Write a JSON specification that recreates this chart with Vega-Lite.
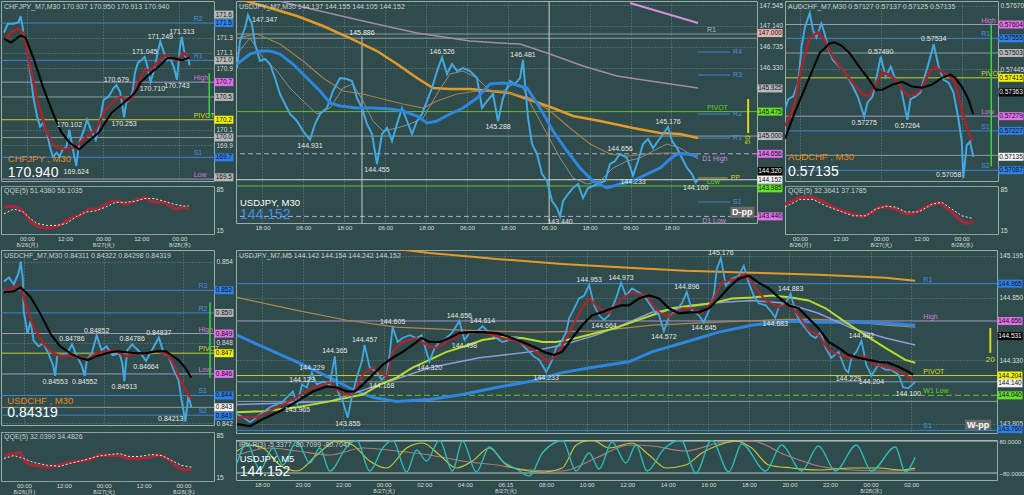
{
"$schema":"https://vega.github.io/schema/vega-lite/v6.json",
"background":"#2f4b4b",
"padding":0,
"config":{
 "view":{"stroke":"#9aabab","strokeWidth":1,"fill":"#2f4b4b"},
 "axis":{"labelColor":"#d8dede","labelFont":"Liberation Sans","labelPadding":2,"ticks":false,"domain":false,"gridColor":"#6d8787","gridDash":[1,2],"gridWidth":1,"labelOverlap":false,"labelFlush":false},
 "axisX":{"labelFontSize":6,"labelLineHeight":6.5,"labelPadding":1},
 "axisY":{"labelFontSize":6.5},
 "text":{"font":"Liberation Sans"},
 "tick":{"opacity":1}
},
"datasets":{
"cj_p":[{"t":-1.23,"v":171.365},{"t":0,"v":171.48},{"t":1.85,"v":171.48},{"t":3.38,"v":171.5},{"t":4.0,"v":171.58},{"t":4.62,"v":171.45},{"t":4.92,"v":171.35},{"t":6.15,"v":171.13},{"t":7.08,"v":170.84},{"t":8.0,"v":170.53},{"t":9.23,"v":170.27},{"t":10.15,"v":170.14},{"t":11.08,"v":170.19},{"t":12.31,"v":170.06},{"t":13.23,"v":169.88},{"t":14.15,"v":169.75},{"t":15.38,"v":169.8},{"t":16.31,"v":169.75},{"t":17.23,"v":169.84},{"t":18.46,"v":169.88},{"t":19.38,"v":170.1},{"t":20.31,"v":169.88},{"t":21.54,"v":169.63},{"t":22.46,"v":169.93},{"t":24.0,"v":170.1},{"t":24.92,"v":170.23},{"t":26.15,"v":170.1},{"t":27.69,"v":169.97},{"t":28.62,"v":170.14},{"t":29.23,"v":170.27},{"t":30.15,"v":170.49},{"t":31.69,"v":170.53},{"t":33.23,"v":170.64},{"t":34.15,"v":170.68},{"t":35.38,"v":170.59},{"t":36.6,"v":170.26},{"t":37.3,"v":170.46},{"t":38.46,"v":170.49},{"t":39.38,"v":170.62},{"t":40.0,"v":170.84},{"t":40.92,"v":170.97},{"t":41.85,"v":171.0},{"t":43.08,"v":171.05},{"t":44.0,"v":170.91},{"t":44.92,"v":170.72},{"t":46.15,"v":170.88},{"t":47.08,"v":171.09},{"t":48.0,"v":171.25},{"t":49.23,"v":171.09},{"t":50.15,"v":171.0},{"t":51.08,"v":171.03},{"t":52.31,"v":170.91},{"t":53.23,"v":170.75},{"t":54.15,"v":171.17},{"t":54.77,"v":171.31},{"t":55.69,"v":171.07},{"t":56.92,"v":171.0},{"t":57.23,"v":170.94}],
"cj_r":[{"t":-1.23,"v":171.26},{"t":0.92,"v":171.365},{"t":3.38,"v":171.416},{"t":4.92,"v":171.352},{"t":7.08,"v":170.913},{"t":9.23,"v":170.488},{"t":12.31,"v":170.063},{"t":14.77,"v":169.882},{"t":18.46,"v":169.844},{"t":21.54,"v":169.882},{"t":24.62,"v":170.01},{"t":27.69,"v":170.1},{"t":30.77,"v":170.36},{"t":33.85,"v":170.488},{"t":35.69,"v":170.527},{"t":37.23,"v":170.488},{"t":38.77,"v":170.488},{"t":40.92,"v":170.707},{"t":43.08,"v":170.875},{"t":44.92,"v":170.875},{"t":47.08,"v":170.978},{"t":49.23,"v":171.068},{"t":51.08,"v":171.042},{"t":53.23,"v":171.004},{"t":55.38,"v":171.094},{"t":57.23,"v":171.042}],
"cj_k":[{"t":-1.23,"v":171.287},{"t":0.92,"v":171.236},{"t":4.0,"v":171.326},{"t":5.54,"v":171.3},{"t":8.0,"v":171.042},{"t":11.08,"v":170.656},{"t":14.15,"v":170.32},{"t":16.92,"v":170.063},{"t":19.38,"v":169.934},{"t":22.46,"v":169.844},{"t":24.92,"v":169.934},{"t":28.62,"v":170.063},{"t":32.62,"v":170.32},{"t":36.92,"v":170.463},{"t":40.0,"v":170.58},{"t":41.85,"v":170.72},{"t":44.92,"v":170.836},{"t":48.0,"v":170.94},{"t":50.15,"v":171.03},{"t":52.31,"v":171.03},{"t":54.77,"v":171.004},{"t":57.23,"v":171.042}],
"cj_q1":[{"t":-1.23,"v":54.3},{"t":1.85,"v":55.7},{"t":4.0,"v":51.4},{"t":4.92,"v":47.1},{"t":7.08,"v":32.9},{"t":9.23,"v":25.7},{"t":12.31,"v":22.9},{"t":14.15,"v":24.3},{"t":16.31,"v":27.1},{"t":19.38,"v":37.1},{"t":22.46,"v":41.4},{"t":25.54,"v":51.4},{"t":28.62,"v":51.4},{"t":30.77,"v":58.6},{"t":32.62,"v":62.9},{"t":34.77,"v":62.9},{"t":36.92,"v":58.6},{"t":38.77,"v":61.4},{"t":40.92,"v":65.7},{"t":43.08,"v":68.6},{"t":44.92,"v":62.9},{"t":47.08,"v":61.4},{"t":49.23,"v":61.4},{"t":51.08,"v":55.7},{"t":53.23,"v":51.4},{"t":55.38,"v":54.3},{"t":56.92,"v":51.4}],
"cj_q2":[{"t":-1.23,"v":44.3},{"t":1.85,"v":51.4},{"t":4.92,"v":47.1},{"t":7.08,"v":37.1},{"t":9.23,"v":30},{"t":12.31,"v":27.1},{"t":15.38,"v":27.1},{"t":18.46,"v":30},{"t":21.54,"v":40},{"t":24.62,"v":47.1},{"t":27.69,"v":48.6},{"t":30.77,"v":54.3},{"t":33.85,"v":61.4},{"t":36.92,"v":61.4},{"t":40.0,"v":62.9},{"t":43.08,"v":67.1},{"t":46.15,"v":67.1},{"t":49.23,"v":62.9},{"t":52.31,"v":58.6},{"t":55.38,"v":55.7},{"t":56.92,"v":56.1}],
"cj_lv":[{"v":171.49,"k":"R","n":"R2"},{"v":171.004,"k":"R","n":"R1"},{"v":170.72,"k":"HL","n":"High"},{"v":170.527,"k":"ref","n":""},{"v":170.23,"k":"P","n":"PIVOT"},{"v":169.999,"k":"ref","n":""},{"v":169.74,"k":"R","n":"S1"},{"v":169.457,"k":"HL","n":"Low"}],
"cj_bx":[{"v":171.6,"k":"bS"},{"v":171.49,"k":"bB"},{"v":171.004,"k":"bS"},{"v":170.72,"k":"bM"},{"v":170.527,"k":"bS"},{"v":170.23,"k":"bY"},{"v":169.999,"k":"bS"},{"v":169.74,"k":"bB"},{"v":169.48,"k":"bS"}],
"cj_hi":[{"t":19.38,"v":170.102},{"t":34.15,"v":170.679},{"t":43.08,"v":171.045},{"t":48.0,"v":171.249},{"t":54.77,"v":171.313}],
"cj_lo":[{"t":21.54,"v":169.624},{"t":36.6,"v":170.253},{"t":45.5,"v":170.71},{"t":53.23,"v":170.743}],
"au_p":[{"t":-4.41,"v":0.57304},{"t":-3.43,"v":0.57339},{"t":-1.96,"v":0.57349},{"t":-0.49,"v":0.57398},{"t":0.49,"v":0.57523},{"t":1.47,"v":0.57593},{"t":2.94,"v":0.57645},{"t":3.92,"v":0.57583},{"t":4.9,"v":0.57558},{"t":6.37,"v":0.57607},{"t":7.35,"v":0.57572},{"t":8.33,"v":0.57523},{"t":9.8,"v":0.57478},{"t":11.27,"v":0.57461},{"t":12.75,"v":0.57443},{"t":14.22,"v":0.57419},{"t":15.69,"v":0.57384},{"t":17.16,"v":0.57349},{"t":19.1,"v":0.57278},{"t":20.1,"v":0.57328},{"t":21.57,"v":0.57349},{"t":23.04,"v":0.57433},{"t":24.0,"v":0.5749},{"t":25.49,"v":0.57419},{"t":26.96,"v":0.57454},{"t":28.43,"v":0.57408},{"t":29.9,"v":0.57384},{"t":31.9,"v":0.57266},{"t":32.84,"v":0.57339},{"t":34.31,"v":0.57349},{"t":35.78,"v":0.57363},{"t":36.76,"v":0.57408},{"t":38.24,"v":0.57468},{"t":39.71,"v":0.57534},{"t":41.18,"v":0.57454},{"t":42.65,"v":0.57408},{"t":44.12,"v":0.57398},{"t":45.59,"v":0.57363},{"t":47.06,"v":0.57269},{"t":48.04,"v":0.57189},{"t":48.53,"v":0.5706},{"t":49.51,"v":0.57175},{"t":50.49,"v":0.57189},{"t":51.47,"v":0.57135}],
"au_r":[{"t":-4.41,"v":0.57244},{"t":-1.96,"v":0.57304},{"t":0.49,"v":0.57454},{"t":2.94,"v":0.57558},{"t":5.39,"v":0.57576},{"t":7.35,"v":0.57548},{"t":9.8,"v":0.57489},{"t":12.75,"v":0.57443},{"t":15.69,"v":0.57398},{"t":18.63,"v":0.57356},{"t":20.59,"v":0.57349},{"t":22.55,"v":0.57398},{"t":24.51,"v":0.57433},{"t":26.47,"v":0.57426},{"t":28.43,"v":0.57408},{"t":30.39,"v":0.57373},{"t":32.35,"v":0.57349},{"t":34.31,"v":0.57356},{"t":36.27,"v":0.5738},{"t":38.24,"v":0.57433},{"t":40.2,"v":0.57454},{"t":42.16,"v":0.57436},{"t":44.12,"v":0.57426},{"t":46.08,"v":0.57398},{"t":47.55,"v":0.57328},{"t":49.02,"v":0.57258},{"t":50.49,"v":0.5721},{"t":51.47,"v":0.57189}],
"au_k":[{"t":-4.41,"v":0.57199},{"t":-1.47,"v":0.57293},{"t":2.94,"v":0.57419},{"t":5.88,"v":0.57503},{"t":8.82,"v":0.57537},{"t":10.29,"v":0.57541},{"t":12.25,"v":0.5753},{"t":14.71,"v":0.57503},{"t":17.65,"v":0.57454},{"t":20.59,"v":0.57408},{"t":22.55,"v":0.57373},{"t":24.51,"v":0.57373},{"t":27.45,"v":0.57391},{"t":30.39,"v":0.57401},{"t":33.33,"v":0.57384},{"t":36.27,"v":0.5738},{"t":39.22,"v":0.57391},{"t":42.16,"v":0.57415},{"t":44.61,"v":0.57426},{"t":46.08,"v":0.57415},{"t":48.04,"v":0.57384},{"t":50.0,"v":0.57339},{"t":51.47,"v":0.57286}],
"au_q1":[{"t":-4.41,"v":58.6},{"t":0,"v":68.6},{"t":3.92,"v":68.6},{"t":6.86,"v":62.9},{"t":9.8,"v":54.3},{"t":13.73,"v":47.1},{"t":18.63,"v":40},{"t":21.57,"v":47.1},{"t":23.53,"v":54.3},{"t":26.47,"v":54.3},{"t":28.43,"v":51.4},{"t":31.37,"v":44.3},{"t":33.33,"v":44.3},{"t":36.27,"v":51.4},{"t":39.22,"v":58.6},{"t":41.18,"v":61.4},{"t":43.14,"v":54.3},{"t":45.1,"v":47.1},{"t":47.06,"v":37.1},{"t":49.02,"v":30},{"t":51.47,"v":32.4}],
"au_q2":[{"t":-4.41,"v":54.3},{"t":0,"v":65.7},{"t":3.92,"v":65.7},{"t":7.84,"v":55.7},{"t":11.76,"v":48.6},{"t":15.69,"v":41.4},{"t":19.61,"v":41.4},{"t":22.55,"v":51.4},{"t":25.49,"v":55.7},{"t":28.43,"v":54.3},{"t":31.37,"v":47.1},{"t":35.29,"v":47.1},{"t":39.22,"v":58.6},{"t":42.16,"v":61.4},{"t":45.1,"v":51.4},{"t":48.04,"v":41.4},{"t":51.47,"v":37.2}],
"au_lv":[{"v":0.57604,"k":"HL","n":"High"},{"v":0.57555,"k":"R","n":"R1"},{"v":0.57503,"k":"ref","n":""},{"v":0.57415,"k":"P","n":"PIVOT"},{"v":0.57279,"k":"HL","n":"Low"},{"v":0.57227,"k":"R","n":"S1"},{"v":0.5714,"k":"ref","n":""},{"v":0.57087,"k":"R","n":"S2"}],
"au_bx":[{"v":0.57604,"k":"bM"},{"v":0.57555,"k":"bB"},{"v":0.57503,"k":"bS"},{"v":0.57415,"k":"bY"},{"v":0.57363,"k":"bK"},{"v":0.57279,"k":"bM"},{"v":0.57227,"k":"bB"},{"v":0.57135,"k":"bW"},{"v":0.57087,"k":"bB"}],
"au_hi":[{"t":24.0,"v":0.5749},{"t":39.71,"v":0.57534}],
"au_lo":[{"t":19.1,"v":0.57275},{"t":31.9,"v":0.57264}],
"uc_p":[{"t":0,"v":0.85253},{"t":1.48,"v":0.85283},{"t":2.97,"v":0.85232},{"t":4.45,"v":0.85319},{"t":5.04,"v":0.854},{"t":5.64,"v":0.85283},{"t":5.93,"v":0.85034},{"t":7.12,"v":0.84867},{"t":8.01,"v":0.84961},{"t":8.9,"v":0.84816},{"t":10.39,"v":0.84772},{"t":11.87,"v":0.84794},{"t":13.35,"v":0.84721},{"t":14.84,"v":0.84626},{"t":15.4,"v":0.84553},{"t":16.02,"v":0.84699},{"t":17.51,"v":0.84706},{"t":18.99,"v":0.84721},{"t":20.47,"v":0.84786},{"t":21.96,"v":0.84699},{"t":23.44,"v":0.84626},{"t":24.3,"v":0.84552},{"t":24.93,"v":0.8467},{"t":26.41,"v":0.84721},{"t":27.89,"v":0.84852},{"t":29.38,"v":0.84743},{"t":30.86,"v":0.84772},{"t":32.64,"v":0.84706},{"t":34.72,"v":0.84721},{"t":35.6,"v":0.84648},{"t":36.2,"v":0.84513},{"t":37.09,"v":0.84743},{"t":38.58,"v":0.84786},{"t":40.65,"v":0.84736},{"t":42.73,"v":0.84664},{"t":44.51,"v":0.84743},{"t":46.59,"v":0.84837},{"t":48.07,"v":0.84721},{"t":49.55,"v":0.84699},{"t":51.04,"v":0.84597},{"t":52.52,"v":0.84524},{"t":53.41,"v":0.84378},{"t":54.6,"v":0.84213},{"t":55.49,"v":0.84407},{"t":56.38,"v":0.84319}],
"uc_r":[{"t":0,"v":0.8518},{"t":2.97,"v":0.8521},{"t":5.04,"v":0.85217},{"t":6.53,"v":0.85086},{"t":8.9,"v":0.84918},{"t":11.87,"v":0.84794},{"t":14.84,"v":0.84721},{"t":16.91,"v":0.84699},{"t":19.88,"v":0.84706},{"t":22.85,"v":0.84684},{"t":24.93,"v":0.8467},{"t":27.89,"v":0.84721},{"t":30.86,"v":0.84735},{"t":33.83,"v":0.84735},{"t":36.8,"v":0.84699},{"t":39.76,"v":0.84721},{"t":42.73,"v":0.84721},{"t":45.7,"v":0.84735},{"t":48.66,"v":0.84721},{"t":50.45,"v":0.8467},{"t":52.52,"v":0.84553},{"t":54.6,"v":0.84451},{"t":56.38,"v":0.84378}],
"uc_k":[{"t":0,"v":0.85173},{"t":2.97,"v":0.8518},{"t":5.04,"v":0.8521},{"t":8.01,"v":0.85137},{"t":10.98,"v":0.85013},{"t":13.95,"v":0.84867},{"t":16.91,"v":0.84772},{"t":19.88,"v":0.84721},{"t":22.85,"v":0.84684},{"t":25.22,"v":0.8467},{"t":27.89,"v":0.84699},{"t":30.86,"v":0.84721},{"t":33.83,"v":0.84735},{"t":36.8,"v":0.84728},{"t":39.76,"v":0.84721},{"t":42.73,"v":0.84721},{"t":45.7,"v":0.84735},{"t":48.66,"v":0.84735},{"t":50.45,"v":0.84706},{"t":52.52,"v":0.8467},{"t":54.6,"v":0.84611},{"t":56.38,"v":0.84538}],
"uc_q1":[{"t":0,"v":51.4},{"t":2.97,"v":54.3},{"t":5.04,"v":55.7},{"t":6.53,"v":41.4},{"t":8.9,"v":37.1},{"t":13.06,"v":34.3},{"t":16.02,"v":37.1},{"t":19.88,"v":41.4},{"t":23.74,"v":44.3},{"t":26.71,"v":47.1},{"t":28.78,"v":52.9},{"t":31.75,"v":51.4},{"t":34.72,"v":51.4},{"t":37.69,"v":47.1},{"t":40.65,"v":47.1},{"t":43.62,"v":48.6},{"t":46.59,"v":52.9},{"t":48.66,"v":48.6},{"t":50.45,"v":41.4},{"t":52.52,"v":34.3},{"t":54.6,"v":30},{"t":56.38,"v":32.0}],
"uc_q2":[{"t":0,"v":47.1},{"t":2.97,"v":51.4},{"t":5.93,"v":47.1},{"t":8.9,"v":41.4},{"t":13.06,"v":37.1},{"t":16.91,"v":35.7},{"t":19.88,"v":40},{"t":23.74,"v":44.3},{"t":27.89,"v":50},{"t":31.75,"v":52.9},{"t":34.72,"v":54.3},{"t":37.69,"v":50},{"t":40.65,"v":50},{"t":44.51,"v":52.9},{"t":47.48,"v":51.4},{"t":50.45,"v":44.3},{"t":53.41,"v":37.1},{"t":56.38,"v":34.5}],
"uc_lv":[{"v":0.85188,"k":"R","n":"R3"},{"v":0.8502,"k":"R","n":"R2"},{"v":0.84867,"k":"HL","n":"High"},{"v":0.84721,"k":"P","n":"PIVOT"},{"v":0.84567,"k":"HL","n":"Low"},{"v":0.84407,"k":"R","n":"S1"},{"v":0.84319,"k":"ref","n":""},{"v":0.84261,"k":"R","n":"S2"}],
"uc_bx":[{"v":0.85188,"k":"bB"},{"v":0.8502,"k":"bS"},{"v":0.84867,"k":"bM"},{"v":0.84721,"k":"bY"},{"v":0.84567,"k":"bM"},{"v":0.84407,"k":"bB"},{"v":0.84319,"k":"bW"},{"v":0.84255,"k":"bB"}],
"uc_hi":[{"t":20.47,"v":0.84786},{"t":27.89,"v":0.84852},{"t":38.58,"v":0.84786},{"t":46.59,"v":0.84837}],
"uc_lo":[{"t":15.4,"v":0.84553},{"t":24.3,"v":0.84552},{"t":36.2,"v":0.84513},{"t":42.73,"v":0.84664}],
"uj_p":[{"t":-1.47,"v":146.322},{"t":-0.59,"v":146.846},{"t":0.88,"v":147.098},{"t":1.76,"v":147.347},{"t":2.93,"v":147.176},{"t":3.81,"v":146.788},{"t":5.28,"v":146.458},{"t":6.75,"v":146.496},{"t":8.22,"v":146.399},{"t":9.68,"v":146.127},{"t":11.15,"v":145.817},{"t":12.62,"v":145.623},{"t":14.08,"v":145.429},{"t":16.14,"v":145.293},{"t":17.9,"v":145.098},{"t":19.95,"v":144.931},{"t":21.42,"v":145.234},{"t":22.89,"v":145.429},{"t":24.94,"v":145.545},{"t":26.7,"v":145.875},{"t":28.76,"v":146.127},{"t":30.81,"v":146.108},{"t":32.28,"v":146.069},{"t":33.74,"v":145.739},{"t":35.21,"v":145.545},{"t":36.68,"v":145.234},{"t":38.15,"v":145.04},{"t":39.61,"v":144.455},{"t":41.08,"v":145.04},{"t":42.55,"v":145.157},{"t":44.01,"v":144.904},{"t":45.48,"v":145.234},{"t":46.95,"v":145.545},{"t":48.42,"v":145.293},{"t":49.88,"v":145.04},{"t":51.35,"v":145.293},{"t":52.82,"v":145.429},{"t":54.28,"v":145.681},{"t":55.75,"v":145.933},{"t":57.22,"v":146.263},{"t":58.69,"v":146.526},{"t":60.15,"v":146.205},{"t":61.62,"v":146.399},{"t":63.09,"v":146.263},{"t":64.85,"v":146.322},{"t":66.9,"v":146.263},{"t":68.96,"v":146.127},{"t":70.42,"v":145.545},{"t":71.89,"v":145.681},{"t":73.65,"v":145.817},{"t":75.12,"v":145.288},{"t":76.58,"v":145.739},{"t":77.76,"v":145.933},{"t":78.64,"v":146.069},{"t":80.1,"v":146.011},{"t":81.57,"v":146.127},{"t":82.45,"v":146.481},{"t":83.04,"v":146.011},{"t":83.92,"v":145.351},{"t":85.09,"v":144.846},{"t":86.56,"v":144.652},{"t":88.03,"v":144.263},{"t":89.5,"v":144.128},{"t":90.96,"v":143.739},{"t":92.43,"v":143.603},{"t":93.31,"v":143.44},{"t":94.19,"v":143.739},{"t":95.66,"v":143.875},{"t":97.13,"v":143.992},{"t":98.59,"v":144.069},{"t":100.06,"v":143.798},{"t":101.53,"v":143.992},{"t":103.0,"v":144.03},{"t":105.05,"v":144.089},{"t":106.51,"v":144.128},{"t":107.98,"v":144.458},{"t":109.45,"v":144.516},{"t":110.92,"v":144.656},{"t":112.97,"v":144.574},{"t":114.73,"v":144.233},{"t":116.2,"v":144.516},{"t":117.66,"v":144.846},{"t":119.13,"v":144.943},{"t":120.6,"v":144.768},{"t":122.07,"v":144.904},{"t":123.53,"v":145.04},{"t":125.0,"v":145.176},{"t":126.17,"v":144.904},{"t":127.64,"v":144.768},{"t":129.11,"v":144.574},{"t":130.58,"v":144.38},{"t":132.04,"v":144.263},{"t":133.1,"v":144.1},{"t":133.8,"v":144.152}],
"uj_b":[{"t":-1.47,"v":146.399},{"t":2.35,"v":146.594},{"t":5.28,"v":146.652},{"t":8.22,"v":146.652},{"t":11.15,"v":146.594},{"t":14.96,"v":146.399},{"t":19.07,"v":146.127},{"t":22.89,"v":145.875},{"t":25.82,"v":145.642},{"t":28.76,"v":145.584},{"t":33.74,"v":145.545},{"t":38.44,"v":145.545},{"t":43.43,"v":145.526},{"t":47.24,"v":145.487},{"t":51.35,"v":145.39},{"t":54.28,"v":145.254},{"t":57.22,"v":145.293},{"t":61.03,"v":145.429},{"t":64.85,"v":145.545},{"t":68.96,"v":145.739},{"t":72.77,"v":146.011},{"t":76.58,"v":146.03},{"t":79.52,"v":146.011},{"t":83.63,"v":145.933},{"t":87.44,"v":145.545},{"t":91.26,"v":145.098},{"t":95.36,"v":144.71},{"t":99.18,"v":144.38},{"t":103.0,"v":144.128},{"t":107.1,"v":143.992},{"t":110.92,"v":144.069},{"t":114.73,"v":144.128},{"t":118.84,"v":144.263},{"t":122.65,"v":144.38},{"t":125.59,"v":144.555},{"t":127.64,"v":144.652},{"t":130.58,"v":144.652},{"t":133.8,"v":144.613}],
"uj_o":[{"t":-0.59,"v":147.66},{"t":8.22,"v":147.487},{"t":16.14,"v":147.331},{"t":23.77,"v":147.137},{"t":31.69,"v":146.904},{"t":39.61,"v":146.652},{"t":45.48,"v":146.399},{"t":51.35,"v":146.127},{"t":56.04,"v":145.933},{"t":61.03,"v":145.914},{"t":66.9,"v":145.914},{"t":72.77,"v":145.875},{"t":78.64,"v":145.836},{"t":85.39,"v":145.681},{"t":91.26,"v":145.545},{"t":97.13,"v":145.39},{"t":105.05,"v":145.293},{"t":114.73,"v":145.157},{"t":122.65,"v":145.06},{"t":128.52,"v":145.04},{"t":133.8,"v":144.962}],
"uj_tan":[{"t":-1.47,"v":146.904},{"t":4.4,"v":146.982},{"t":11.15,"v":146.788},{"t":17.9,"v":146.458},{"t":23.77,"v":146.127},{"t":29.64,"v":145.875},{"t":35.5,"v":145.817},{"t":41.37,"v":145.72},{"t":47.24,"v":145.623},{"t":53.11,"v":145.545},{"t":57.22,"v":145.681},{"t":63.09,"v":145.817},{"t":68.96,"v":145.875},{"t":74.82,"v":145.875},{"t":78.64,"v":145.836},{"t":84.51,"v":145.739},{"t":90.38,"v":145.487},{"t":96.24,"v":145.157},{"t":102.11,"v":144.846},{"t":107.98,"v":144.652},{"t":112.97,"v":144.613},{"t":118.84,"v":144.652},{"t":124.71,"v":144.671},{"t":130.58,"v":144.671},{"t":133.8,"v":144.652}],
"uj_g":[{"t":-1.47,"v":146.594},{"t":2.35,"v":146.904},{"t":6.16,"v":146.516},{"t":10.27,"v":146.263},{"t":14.08,"v":145.933},{"t":17.9,"v":145.681},{"t":22.0,"v":145.429},{"t":25.82,"v":145.545},{"t":29.64,"v":145.933},{"t":32.57,"v":146.011},{"t":35.5,"v":145.681},{"t":38.44,"v":145.293},{"t":41.37,"v":145.098},{"t":45.48,"v":145.157},{"t":49.3,"v":145.234},{"t":53.11,"v":145.351},{"t":57.22,"v":145.817},{"t":61.03,"v":146.205},{"t":64.85,"v":146.263},{"t":68.96,"v":146.127},{"t":72.77,"v":145.875},{"t":76.58,"v":145.875},{"t":79.52,"v":146.011},{"t":82.45,"v":145.933},{"t":85.39,"v":145.545},{"t":89.5,"v":145.04},{"t":93.31,"v":144.574},{"t":97.13,"v":144.186},{"t":101.23,"v":144.069},{"t":105.05,"v":144.128},{"t":108.86,"v":144.38},{"t":112.97,"v":144.516},{"t":116.78,"v":144.574},{"t":120.6,"v":144.71},{"t":124.71,"v":144.846},{"t":128.52,"v":144.768},{"t":131.46,"v":144.652},{"t":133.8,"v":144.555}],
"uj_pu":[{"t":11.15,"v":147.62},{"t":19.07,"v":147.487},{"t":35.5,"v":147.234},{"t":51.35,"v":147.001},{"t":66.9,"v":146.846},{"t":75.7,"v":146.807},{"t":81.57,"v":146.788},{"t":90.38,"v":146.594},{"t":100.06,"v":146.361},{"t":110.04,"v":146.166},{"t":119.72,"v":146.069},{"t":133.8,"v":145.933}],
"uj_pk":[{"t":113.85,"v":147.584},{"t":133.8,"v":147.196}],
"uj_lv":[{"v":146.982,"k":"ref","n":"R1"},{"v":146.9,"k":"ref","n":""},{"v":145.475,"k":"G","n":"PIVOT"},{"v":145.0,"k":"ref","n":""},{"v":144.656,"k":"D","n":"D1 High"},{"v":144.152,"k":"W","n":""},{"v":144.03,"k":"G","n":"Low"},{"v":143.44,"k":"D","n":"D1 Low"}],
"uj_bx":[{"v":147.0,"k":"bP"},{"v":145.925,"k":"bS"},{"v":145.475,"k":"bG"},{"v":145.0,"k":"bS"},{"v":144.656,"k":"bM"},{"v":144.32,"k":"bK"},{"v":144.152,"k":"bW"},{"v":143.985,"k":"bG"},{"v":143.44,"k":"bM"}],
"uj_seg":[{"t":133.8,"t2":143.2,"v":146.632,"k":"R","n":"R4"},{"t":133.8,"t2":143.2,"v":146.186,"k":"R","n":"R3"},{"t":133.8,"t2":143.2,"v":145.429,"k":"R","n":"R2"},{"t":133.8,"t2":143.2,"v":144.962,"k":"R","n":"R1"},{"t":133.8,"t2":143.2,"v":143.72,"k":"R","n":"S1"},{"t":133.8,"t2":142.5,"v":144.186,"k":"PP","n":"PP"}],
"uj_hi":[{"t":58.69,"v":146.526},{"t":82.45,"v":146.481},{"t":110.92,"v":144.656},{"t":125.0,"v":145.176}],
"uj_lo":[{"t":19.95,"v":144.931},{"t":39.61,"v":144.455},{"t":75.12,"v":145.288},{"t":93.31,"v":143.44},{"t":114.73,"v":144.233},{"t":133.1,"v":144.1}],
"m5_p":[{"t":-1.23,"v":143.883},{"t":-0.93,"v":143.859},{"t":-0.59,"v":143.818},{"t":-0.25,"v":143.859},{"t":0.05,"v":143.9},{"t":0.39,"v":143.941},{"t":0.74,"v":143.965},{"t":1.03,"v":143.99},{"t":1.38,"v":144.047},{"t":1.52,"v":144.072},{"t":1.75,"v":143.965},{"t":1.97,"v":144.129},{"t":2.21,"v":144.105},{"t":2.46,"v":144.229},{"t":2.7,"v":144.129},{"t":3.0,"v":144.154},{"t":3.34,"v":144.129},{"t":3.59,"v":144.365},{"t":3.74,"v":144.072},{"t":3.98,"v":143.99},{"t":4.23,"v":143.855},{"t":4.42,"v":144.023},{"t":4.67,"v":144.187},{"t":4.92,"v":144.318},{"t":5.06,"v":144.457},{"t":5.31,"v":144.269},{"t":5.65,"v":144.236},{"t":5.9,"v":144.168},{"t":6.15,"v":144.211},{"t":6.29,"v":144.375},{"t":6.44,"v":144.605},{"t":6.69,"v":144.482},{"t":6.93,"v":144.515},{"t":7.28,"v":144.539},{"t":7.62,"v":144.515},{"t":7.87,"v":144.539},{"t":8.11,"v":144.4},{"t":8.26,"v":144.32},{"t":8.51,"v":144.433},{"t":8.75,"v":144.482},{"t":9.1,"v":144.515},{"t":9.39,"v":144.564},{"t":9.73,"v":144.656},{"t":9.98,"v":144.498},{"t":10.23,"v":144.556},{"t":10.57,"v":144.564},{"t":10.87,"v":144.614},{"t":11.21,"v":144.556},{"t":11.55,"v":144.515},{"t":11.85,"v":144.482},{"t":12.19,"v":144.498},{"t":12.54,"v":144.523},{"t":12.83,"v":144.457},{"t":13.18,"v":144.4},{"t":13.42,"v":144.359},{"t":13.67,"v":144.334},{"t":14.01,"v":144.233},{"t":14.26,"v":144.318},{"t":14.5,"v":144.433},{"t":14.75,"v":144.482},{"t":14.99,"v":144.564},{"t":15.14,"v":144.679},{"t":15.39,"v":144.761},{"t":15.63,"v":144.843},{"t":15.88,"v":144.867},{"t":16.13,"v":144.953},{"t":16.37,"v":144.785},{"t":16.62,"v":144.703},{"t":16.86,"v":144.664},{"t":17.11,"v":144.703},{"t":17.45,"v":144.843},{"t":17.7,"v":144.973},{"t":17.94,"v":144.867},{"t":18.24,"v":144.925},{"t":18.58,"v":144.892},{"t":18.83,"v":144.867},{"t":19.08,"v":144.802},{"t":19.32,"v":144.744},{"t":19.57,"v":144.703},{"t":19.81,"v":144.572},{"t":20.06,"v":144.687},{"t":20.4,"v":144.744},{"t":20.7,"v":144.802},{"t":20.94,"v":144.896},{"t":21.19,"v":144.744},{"t":21.53,"v":144.703},{"t":21.78,"v":144.645},{"t":22.03,"v":144.744},{"t":22.27,"v":144.867},{"t":22.42,"v":145.088},{"t":22.62,"v":145.176},{"t":22.86,"v":144.949},{"t":23.16,"v":145.006},{"t":23.5,"v":145.031},{"t":23.75,"v":145.113},{"t":23.99,"v":144.974},{"t":24.24,"v":144.867},{"t":24.48,"v":144.802},{"t":24.83,"v":144.785},{"t":25.12,"v":144.728},{"t":25.3,"v":144.683},{"t":25.47,"v":144.769},{"t":25.81,"v":144.802},{"t":26.06,"v":144.883},{"t":26.3,"v":144.728},{"t":26.55,"v":144.646},{"t":26.79,"v":144.597},{"t":27.04,"v":144.539},{"t":27.29,"v":144.515},{"t":27.53,"v":144.564},{"t":27.78,"v":144.433},{"t":28.07,"v":144.351},{"t":28.42,"v":144.4},{"t":28.76,"v":144.252},{"t":28.9,"v":144.229},{"t":29.06,"v":144.351},{"t":29.3,"v":144.4},{"t":29.55,"v":144.492},{"t":29.79,"v":144.293},{"t":30.04,"v":144.204},{"t":30.38,"v":144.293},{"t":30.73,"v":144.252},{"t":31.02,"v":144.252},{"t":31.37,"v":144.211},{"t":31.61,"v":144.105},{"t":31.86,"v":144.1},{"t":32.2,"v":144.152}],
"m5_k":[{"t":-1.23,"v":143.802},{"t":-0.59,"v":143.785},{"t":0.05,"v":143.843},{"t":0.88,"v":143.908},{"t":1.72,"v":143.99},{"t":2.51,"v":144.072},{"t":3.2,"v":144.113},{"t":3.69,"v":144.105},{"t":4.18,"v":144.072},{"t":4.57,"v":144.072},{"t":4.97,"v":144.129},{"t":5.46,"v":144.211},{"t":5.95,"v":144.293},{"t":6.44,"v":144.351},{"t":6.93,"v":144.4},{"t":7.42,"v":144.457},{"t":7.87,"v":144.515},{"t":8.26,"v":144.482},{"t":8.75,"v":144.482},{"t":9.24,"v":144.515},{"t":9.73,"v":144.556},{"t":10.23,"v":144.564},{"t":10.87,"v":144.564},{"t":11.55,"v":144.556},{"t":12.19,"v":144.523},{"t":12.83,"v":144.482},{"t":13.52,"v":144.433},{"t":14.01,"v":144.392},{"t":14.41,"v":144.375},{"t":14.8,"v":144.4},{"t":15.29,"v":144.515},{"t":15.78,"v":144.621},{"t":16.27,"v":144.703},{"t":16.76,"v":144.728},{"t":17.26,"v":144.761},{"t":17.7,"v":144.785},{"t":18.09,"v":144.785},{"t":18.58,"v":144.843},{"t":19.08,"v":144.867},{"t":19.57,"v":144.843},{"t":20.06,"v":144.761},{"t":20.55,"v":144.72},{"t":21.04,"v":144.728},{"t":21.53,"v":144.728},{"t":22.03,"v":144.761},{"t":22.52,"v":144.843},{"t":23.01,"v":144.933},{"t":23.5,"v":145.006},{"t":23.99,"v":145.031},{"t":24.48,"v":144.974},{"t":24.98,"v":144.925},{"t":25.47,"v":144.851},{"t":25.96,"v":144.785},{"t":26.45,"v":144.761},{"t":26.94,"v":144.679},{"t":27.43,"v":144.597},{"t":27.93,"v":144.482},{"t":28.42,"v":144.433},{"t":28.91,"v":144.375},{"t":29.4,"v":144.351},{"t":29.89,"v":144.334},{"t":30.38,"v":144.318},{"t":30.88,"v":144.31},{"t":31.37,"v":144.277},{"t":31.86,"v":144.236},{"t":32.1,"v":144.211}],
"m5_r":[{"t":-1.23,"v":143.859},{"t":-0.25,"v":143.859},{"t":0.74,"v":143.941},{"t":1.72,"v":144.023},{"t":2.51,"v":144.105},{"t":3.34,"v":144.146},{"t":3.98,"v":144.047},{"t":4.47,"v":144.047},{"t":4.97,"v":144.211},{"t":5.46,"v":144.269},{"t":6.15,"v":144.195},{"t":6.44,"v":144.4},{"t":6.93,"v":144.482},{"t":7.62,"v":144.515},{"t":8.11,"v":144.457},{"t":8.6,"v":144.433},{"t":9.24,"v":144.498},{"t":9.88,"v":144.556},{"t":10.87,"v":144.564},{"t":11.85,"v":144.515},{"t":12.68,"v":144.482},{"t":13.52,"v":144.4},{"t":14.06,"v":144.318},{"t":14.55,"v":144.375},{"t":15.14,"v":144.564},{"t":15.78,"v":144.761},{"t":16.13,"v":144.843},{"t":16.62,"v":144.761},{"t":17.11,"v":144.72},{"t":17.75,"v":144.843},{"t":18.24,"v":144.892},{"t":18.93,"v":144.867},{"t":19.57,"v":144.728},{"t":20.06,"v":144.687},{"t":20.7,"v":144.761},{"t":21.19,"v":144.761},{"t":21.68,"v":144.72},{"t":22.17,"v":144.81},{"t":22.66,"v":144.974},{"t":23.35,"v":145.006},{"t":23.84,"v":145.047},{"t":24.34,"v":144.925},{"t":24.83,"v":144.826},{"t":25.47,"v":144.769},{"t":25.96,"v":144.802},{"t":26.45,"v":144.703},{"t":26.94,"v":144.58},{"t":27.43,"v":144.539},{"t":27.93,"v":144.416},{"t":28.42,"v":144.375},{"t":29.06,"v":144.351},{"t":29.74,"v":144.359},{"t":30.24,"v":144.293},{"t":30.88,"v":144.269},{"t":31.51,"v":144.228},{"t":32.1,"v":144.17}],
"m5_y":[{"t":-1.23,"v":143.9},{"t":0.05,"v":143.908},{"t":1.72,"v":143.941},{"t":3.34,"v":143.99},{"t":4.97,"v":144.047},{"t":5.8,"v":144.129},{"t":6.64,"v":144.187},{"t":7.42,"v":144.269},{"t":8.26,"v":144.334},{"t":9.1,"v":144.4},{"t":9.88,"v":144.441},{"t":10.87,"v":144.498},{"t":11.85,"v":144.523},{"t":12.83,"v":144.515},{"t":13.82,"v":144.482},{"t":14.5,"v":144.482},{"t":15.49,"v":144.515},{"t":16.47,"v":144.556},{"t":17.45,"v":144.597},{"t":18.24,"v":144.646},{"t":19.22,"v":144.703},{"t":20.21,"v":144.761},{"t":21.19,"v":144.785},{"t":22.17,"v":144.802},{"t":23.16,"v":144.843},{"t":24.14,"v":144.851},{"t":25.12,"v":144.867},{"t":26.11,"v":144.851},{"t":26.94,"v":144.826},{"t":27.78,"v":144.761},{"t":28.76,"v":144.646},{"t":29.74,"v":144.539},{"t":30.73,"v":144.433},{"t":31.71,"v":144.334},{"t":32.2,"v":144.31}],
"m5_b":[{"t":-1.23,"v":144.539},{"t":0.05,"v":144.441},{"t":1.72,"v":144.318},{"t":3.34,"v":144.187},{"t":4.67,"v":144.072},{"t":5.46,"v":144.023},{"t":6.64,"v":143.99},{"t":8.26,"v":144.006},{"t":9.88,"v":144.047},{"t":11.55,"v":144.105},{"t":13.18,"v":144.154},{"t":14.8,"v":144.228},{"t":16.47,"v":144.277},{"t":18.09,"v":144.318},{"t":19.22,"v":144.4},{"t":20.89,"v":144.482},{"t":22.52,"v":144.564},{"t":24.14,"v":144.621},{"t":25.47,"v":144.646},{"t":26.3,"v":144.654},{"t":27.43,"v":144.646},{"t":29.06,"v":144.646},{"t":30.73,"v":144.638},{"t":32.2,"v":144.621}],
"m5_lav":[{"t":-1.23,"v":143.965},{"t":0.88,"v":143.974},{"t":3.34,"v":143.99},{"t":5.8,"v":144.129},{"t":8.26,"v":144.269},{"t":10.72,"v":144.351},{"t":13.18,"v":144.4},{"t":14.8,"v":144.457},{"t":16.47,"v":144.539},{"t":18.09,"v":144.646},{"t":19.22,"v":144.728},{"t":20.89,"v":144.769},{"t":22.52,"v":144.81},{"t":24.14,"v":144.826},{"t":25.81,"v":144.802},{"t":27.43,"v":144.72},{"t":29.06,"v":144.597},{"t":30.73,"v":144.515},{"t":32.2,"v":144.457}],
"m5_o":[{"t":6.64,"v":145.252},{"t":8.26,"v":145.22},{"t":11.55,"v":145.17},{"t":14.8,"v":145.129},{"t":18.09,"v":145.097},{"t":20.89,"v":145.072},{"t":24.14,"v":145.056},{"t":27.43,"v":145.039},{"t":30.73,"v":145.015},{"t":32.2,"v":144.99}],
"m5_tan":[{"t":-1.23,"v":144.851},{"t":1.72,"v":144.744},{"t":4.18,"v":144.662},{"t":6.64,"v":144.605},{"t":9.88,"v":144.58},{"t":13.18,"v":144.564},{"t":16.47,"v":144.572},{"t":19.22,"v":144.621},{"t":22.52,"v":144.646},{"t":25.81,"v":144.67},{"t":27.43,"v":144.67},{"t":29.06,"v":144.654},{"t":30.73,"v":144.621},{"t":32.2,"v":144.605}],
"m5_lv":[{"v":144.965,"k":"R","n":"R1"},{"v":144.656,"k":"HL","n":"High"},{"v":144.204,"k":"P","n":"PIVOT"},{"v":144.152,"k":"ref","n":""},{"v":144.04,"k":"GD","n":"W1 Low"},{"v":143.99,"k":"ref","n":""},{"v":143.75,"k":"R","n":"S1"}],
"m5_bx":[{"v":144.965,"k":"bB"},{"v":144.656,"k":"bM"},{"v":144.531,"k":"bK"},{"v":144.204,"k":"bY"},{"v":144.14,"k":"bW"},{"v":144.04,"k":"bG"},{"v":143.76,"k":"bB"}],
"m5_hi":[{"t":1.97,"v":144.129},{"t":2.46,"v":144.229},{"t":3.59,"v":144.365},{"t":5.06,"v":144.457},{"t":6.44,"v":144.605},{"t":9.73,"v":144.656},{"t":10.87,"v":144.614},{"t":16.13,"v":144.953},{"t":17.7,"v":144.973},{"t":20.94,"v":144.896},{"t":22.62,"v":145.176},{"t":26.06,"v":144.883},{"t":29.55,"v":144.492}],
"m5_lo":[{"t":1.75,"v":143.965},{"t":4.23,"v":143.855},{"t":5.9,"v":144.168},{"t":8.26,"v":144.32},{"t":9.98,"v":144.498},{"t":14.01,"v":144.233},{"t":16.86,"v":144.664},{"t":19.81,"v":144.572},{"t":21.78,"v":144.645},{"t":25.3,"v":144.683},{"t":28.9,"v":144.229},{"t":30.04,"v":144.204},{"t":31.86,"v":144.1}],
"m5_c":[{"t":-1.23,"v":-30},{"t":-0.74,"v":70},{"t":-0.1,"v":-65},{"t":0.54,"v":45},{"t":1.03,"v":-40},{"t":1.72,"v":80},{"t":2.36,"v":-30},{"t":2.85,"v":45},{"t":3.34,"v":-70},{"t":4.18,"v":50},{"t":4.67,"v":85},{"t":5.31,"v":-70},{"t":5.95,"v":45},{"t":6.44,"v":85},{"t":7.13,"v":-75},{"t":7.62,"v":35},{"t":8.11,"v":-20},{"t":8.75,"v":85},{"t":9.39,"v":-70},{"t":9.88,"v":80},{"t":10.57,"v":-75},{"t":11.21,"v":50},{"t":11.85,"v":-20},{"t":12.54,"v":-60},{"t":13.18,"v":-95},{"t":13.82,"v":20},{"t":14.5,"v":75},{"t":14.8,"v":85},{"t":15.49,"v":-70},{"t":16.13,"v":20},{"t":16.62,"v":-60},{"t":17.26,"v":75},{"t":17.94,"v":-30},{"t":18.44,"v":60},{"t":18.98,"v":-70},{"t":19.81,"v":40},{"t":20.65,"v":85},{"t":21.39,"v":-80},{"t":22.17,"v":85},{"t":23.01,"v":-75},{"t":23.65,"v":65},{"t":24.83,"v":-70},{"t":25.61,"v":60},{"t":26.6,"v":-70},{"t":27.43,"v":55},{"t":28.27,"v":-70},{"t":29.3,"v":60},{"t":30.04,"v":-70},{"t":31.22,"v":50},{"t":31.71,"v":-75},{"t":32.2,"v":0}],
"m5_yl":[{"t":-1.23,"v":30},{"t":-0.59,"v":60},{"t":0.05,"v":45},{"t":0.88,"v":-40},{"t":1.72,"v":-70},{"t":2.7,"v":10},{"t":3.69,"v":80},{"t":4.47,"v":60},{"t":5.31,"v":-20},{"t":6.15,"v":-55},{"t":7.13,"v":45},{"t":7.92,"v":70},{"t":8.75,"v":10},{"t":9.59,"v":-55},{"t":10.37,"v":-20},{"t":11.21,"v":45},{"t":12.05,"v":-40},{"t":12.83,"v":-65},{"t":13.82,"v":-75},{"t":14.8,"v":-55},{"t":15.49,"v":60},{"t":16.27,"v":85},{"t":17.11,"v":45},{"t":18.24,"v":70},{"t":19.08,"v":10},{"t":19.91,"v":-55},{"t":20.89,"v":-40},{"t":21.68,"v":20},{"t":22.52,"v":60},{"t":23.35,"v":80},{"t":24.14,"v":45},{"t":24.98,"v":-40},{"t":26.11,"v":-55},{"t":27.43,"v":-65},{"t":29.06,"v":-55},{"t":30.38,"v":-55},{"t":31.51,"v":-65},{"t":32.2,"v":-55}],
"m5_br":[{"t":-1.23,"v":10},{"t":0.39,"v":45},{"t":1.72,"v":30},{"t":3.34,"v":10},{"t":4.97,"v":45},{"t":6.64,"v":30},{"t":8.26,"v":10},{"t":9.88,"v":-20},{"t":11.55,"v":-40},{"t":13.18,"v":-65},{"t":14.8,"v":-70},{"t":16.47,"v":-5},{"t":18.09,"v":60},{"t":19.22,"v":55},{"t":20.89,"v":30},{"t":22.52,"v":70},{"t":24.14,"v":80},{"t":25.81,"v":10},{"t":27.43,"v":-45},{"t":29.06,"v":-65},{"t":30.73,"v":-70},{"t":32.2,"v":-65}],
"m5_ol":[{"v":80},{"v":-80}]
},
"spacing":0,
"vconcat":[
{"spacing":1,"hconcat":[
 {"spacing":3,"vconcat":[
  {"width":213,"height":180,"layer":[
   {"data":{"name":"cj_lv"},"mark":{"type":"rule","strokeWidth":1},"encoding":{"y":{"field":"v","type":"quantitative","title":null},"stroke":{"field":"k","type":"nominal","legend":null,"scale":{"domain":["R","HL","ref","P","G","D","W","GD","PP"],"range":["#3d84d6","#a596c4","#8c9e9e","#c8cf2a","#5fc232","#b9a6d6","#dcdcdc","#5fc232","#b8ac3a"]}},"strokeDash":{"field":"k","type":"nominal","legend":null,"scale":{"domain":["R","HL","ref","P","G","D","W","GD","PP"],"range":[[1,0],[1,0],[1,0],[1,0],[1,0],[5,3],[1,0],[6,3],[1,0]]}}}},
   {"data":{"name":"cj_p"},"mark":{"type":"line","color":"#45a7df","strokeWidth":2,"clip":true},"encoding":{"x":{"field":"t","type":"quantitative","title":null,"scale":{"domain":[-2.15,64.9],"nice":false,"zero":false},"axis":{"values":[6,30,54],"labels":false,"grid":true,"title":null}},"y":{"field":"v","type":"quantitative","title":null,"scale":{"domain":[169.432,171.777],"nice":false,"zero":false},"axis":{"orient":"right","values":[171.3,171.1,170.9,170.1,169.9],"format":".1f","grid":true,"title":null}}}},
   {"data":{"name":"cj_r"},"mark":{"type":"line","color":"#a3262a","strokeWidth":2.5,"clip":true},"encoding":{"x":{"field":"t","type":"quantitative","title":null},"y":{"field":"v","type":"quantitative","title":null}}},
   {"data":{"name":"cj_k"},"mark":{"type":"line","color":"#000000","strokeWidth":2,"clip":true},"encoding":{"x":{"field":"t","type":"quantitative","title":null},"y":{"field":"v","type":"quantitative","title":null}}},
   {"data":{"name":"cj_lv"},"mark":{"type":"text","align":"left","baseline":"bottom","fontSize":7,"dy":-1},"encoding":{"x":{"datum":58.5},"y":{"field":"v","type":"quantitative","title":null},"text":{"field":"n"},"fill":{"field":"k","type":"nominal","legend":null,"scale":{"domain":["R","HL","ref","P","G","D","W","GD","PP","bB","bM","bY","bG","bW","bK","bS","bP"],"range":["#4a90e0","#d77ad8","#b4bcbc","#d8dc30","#66d22a","#c48ee0","#f0f0f0","#66d22a","#d8d020","#2f7fe8","#e070e8","#f4f400","#66e02a","#f4f4f4","#000000","#b8b8b8","#e8b4b4"]}}}},
   {"data":{"name":"cj_bx"},"mark":{"type":"tick","orient":"horizontal","size":19,"thickness":8,"clip":false},"encoding":{"x":{"datum":68.0},"y":{"field":"v","type":"quantitative","title":null},"fill":{"field":"k","type":"nominal","legend":null}}},
   {"data":{"name":"cj_bx"},"mark":{"type":"text","fontSize":6.5,"color":"#111111"},"encoding":{"x":{"datum":68.0},"y":{"field":"v","type":"quantitative","title":null},"text":{"field":"v","format":".1f"}}},
   {"data":{"name":"cj_hi"},"mark":{"type":"text","baseline":"bottom","dy":-2,"fontSize":7,"color":"#e6e6e6"},"encoding":{"x":{"field":"t","type":"quantitative","title":null},"y":{"field":"v","type":"quantitative","title":null},"text":{"field":"v","format":".3f"}}},
   {"data":{"name":"cj_lo"},"mark":{"type":"text","baseline":"top","dy":2,"fontSize":7,"color":"#e6e6e6"},"encoding":{"x":{"field":"t","type":"quantitative","title":null},"y":{"field":"v","type":"quantitative","title":null},"text":{"field":"v","format":".3f"}}},
   {"data":{"values":[{}]},"mark":{"type":"rule","color":"#3fd43f","strokeWidth":1.5},"encoding":{"x":{"datum":63.4},"y":{"datum":170.836},"y2":{"datum":170.256}}},
   {"data":{"values":[{}]},"mark":{"type":"text","align":"left","baseline":"top","fontSize":7,"dx":3,"dy":2,"color":"#c8d0d0"},"encoding":{"x":{"datum":-2.15},"y":{"datum":171.777},"text":{"value":"CHFJPY_M7,M30  170.937 170.950 170.913 170.940"}}},
   {"data":{"values":[{}]},"mark":{"type":"text","align":"left","baseline":"middle","fontSize":9.5,"color":"#e8891c"},"encoding":{"x":{"datum":0},"y":{"datum":169.72},"text":{"value":"CHFJPY , M30"}}},
   {"data":{"values":[{}]},"mark":{"type":"text","align":"left","baseline":"middle","fontSize":14,"color":"#ffffff"},"encoding":{"x":{"datum":0},"y":{"datum":169.53},"text":{"value":"170.940"}}}
  ]},
  {"width":213,"height":48,"layer":[
   {"data":{"name":"cj_q1"},"mark":{"type":"line","color":"#a82838","strokeWidth":3,"clip":true},"encoding":{"x":{"field":"t","type":"quantitative","title":null,"scale":{"domain":[-2.15,64.9],"nice":false,"zero":false},"axis":{"values":[6,12,18,24,30,36,42,48,54],"grid":false,"title":null,"labelExpr":"(datum.value+18)%24==0 ? ['00:00',['','8/26(月)','8/27(火)','8/28(水)'][floor((datum.value+18)/24)]] : format((datum.value+18)%24,'02d')+':00'"}},"y":{"field":"v","type":"quantitative","title":null,"scale":{"domain":[14.3,85.7],"nice":false,"zero":false},"axis":{"orient":"right","values":[15,30,50,70,85],"labelFlush":true,"grid":true,"title":null}}}},
   {"data":{"name":"cj_q2"},"mark":{"type":"line","color":"#e8e8e8","strokeWidth":1,"strokeDash":[2,2],"clip":true},"encoding":{"x":{"field":"t","type":"quantitative","title":null},"y":{"field":"v","type":"quantitative","title":null}}},
   {"data":{"values":[{}]},"mark":{"type":"text","align":"left","baseline":"top","fontSize":7,"dx":3,"dy":1,"color":"#c8d0d0"},"encoding":{"x":{"datum":-2.15},"y":{"datum":85.7},"text":{"value":"QQE(5) 51.4380 56.1035"}}}
  ]}
 ]},
 {"width":521,"height":222,"layer":[
   {"data":{"name":"uj_lv"},"mark":{"type":"rule","strokeWidth":1},"encoding":{"y":{"field":"v","type":"quantitative","title":null},"stroke":{"field":"k","type":"nominal","legend":null,"scale":{"domain":["R","HL","ref","P","G","D","W","GD","PP"],"range":["#3d84d6","#a596c4","#8c9e9e","#c8cf2a","#5fc232","#b9a6d6","#dcdcdc","#5fc232","#b8ac3a"]}},"strokeDash":{"field":"k","type":"nominal","legend":null,"scale":{"domain":["R","HL","ref","P","G","D","W","GD","PP"],"range":[[1,0],[1,0],[1,0],[1,0],[1,0],[5,3],[1,0],[6,3],[1,0]]}}}},
   {"data":{"name":"uj_seg"},"mark":{"type":"rule","strokeWidth":1},"encoding":{"x":{"field":"t","type":"quantitative","title":null},"x2":{"field":"t2"},"y":{"field":"v","type":"quantitative","title":null},"stroke":{"field":"k","type":"nominal","legend":null}}},
   {"data":{"values":[{}]},"mark":{"type":"rule","color":"#c8c8c8","strokeWidth":1},"encoding":{"x":{"datum":90.1}}},
   {"data":{"values":[{}]},"mark":{"type":"rule","color":"#c8c8c8","strokeWidth":1},"encoding":{"x":{"datum":35.2},"y":{"datum":146.93},"y2":{"datum":143.312}}},
   {"data":{"name":"uj_pu"},"mark":{"type":"line","color":"#a88aa8","strokeWidth":1.5,"clip":true},"encoding":{"x":{"field":"t","type":"quantitative","title":null},"y":{"field":"v","type":"quantitative","title":null}}},
   {"data":{"name":"uj_pk"},"mark":{"type":"line","color":"#d58fe0","strokeWidth":2,"clip":true},"encoding":{"x":{"field":"t","type":"quantitative","title":null},"y":{"field":"v","type":"quantitative","title":null}}},
   {"data":{"name":"uj_o"},"mark":{"type":"line","color":"#e39a2a","strokeWidth":2.5,"clip":true},"encoding":{"x":{"field":"t","type":"quantitative","title":null},"y":{"field":"v","type":"quantitative","title":null}}},
   {"data":{"name":"uj_tan"},"mark":{"type":"line","color":"#a08050","strokeWidth":1.2,"clip":true},"encoding":{"x":{"field":"t","type":"quantitative","title":null},"y":{"field":"v","type":"quantitative","title":null}}},
   {"data":{"name":"uj_g"},"mark":{"type":"line","color":"#8a9090","strokeWidth":1,"clip":true},"encoding":{"x":{"field":"t","type":"quantitative","title":null},"y":{"field":"v","type":"quantitative","title":null}}},
   {"data":{"name":"uj_p"},"mark":{"type":"line","color":"#45a7df","strokeWidth":2,"clip":true},"encoding":{"x":{"field":"t","type":"quantitative","title":null,"scale":{"domain":[-1.76,151.1],"nice":false,"zero":false},"axis":{"values":[6,12,18,24,30,36,42,48,54,60,66,72,78,84,90,96,102,108,114,120,126,132],"grid":true,"title":null,"labelExpr":"[['12:00'],['18:00'],['00:00','8/21(水)'],['06:00'],['12:00'],['18:00'],['00:00','8/22(木)'],['06:00'],['12:00'],['18:00'],['00:00','8/23(金)'],['06:00'],['12:00'],['18:00'],['00:00','8/24(土)8/26(月)'],['06:30'],['12:00'],['18:00'],['00:00','8/27(火)'],['06:00'],['12:00'],['18:00'],['00:00','8/28(水)']][round(datum.value/6)]"}},"y":{"field":"v","type":"quantitative","title":null,"scale":{"domain":[143.312,147.623],"nice":false,"zero":false},"axis":{"orient":"right","values":[147.545,147.14,146.735,146.33],"format":".3f","grid":true,"title":null}}}},
   {"data":{"name":"uj_b"},"mark":{"type":"line","color":"#2f86e0","strokeWidth":3,"clip":true},"encoding":{"x":{"field":"t","type":"quantitative","title":null},"y":{"field":"v","type":"quantitative","title":null}}},
   {"data":{"name":"uj_lv"},"transform":[{"filter":"datum.k!='D'"}],"mark":{"type":"text","align":"left","baseline":"bottom","fontSize":7,"dy":-1},"encoding":{"x":{"datum":136.4},"y":{"field":"v","type":"quantitative","title":null},"text":{"field":"n"},"fill":{"field":"k","type":"nominal","legend":null,"scale":{"domain":["R","HL","ref","P","G","D","W","GD","PP","bB","bM","bY","bG","bW","bK","bS","bP"],"range":["#4a90e0","#d77ad8","#b4bcbc","#d8dc30","#66d22a","#c48ee0","#f0f0f0","#66d22a","#d8d020","#2f7fe8","#e070e8","#f4f400","#66e02a","#f4f4f4","#000000","#b8b8b8","#e8b4b4"]}}}},
   {"data":{"name":"uj_lv"},"transform":[{"filter":"datum.k=='D'"}],"mark":{"type":"text","align":"left","baseline":"top","fontSize":7,"dy":1},"encoding":{"x":{"datum":135.0},"y":{"field":"v","type":"quantitative","title":null},"text":{"field":"n"},"fill":{"field":"k","type":"nominal","legend":null}}},
   {"data":{"name":"uj_seg"},"mark":{"type":"text","align":"left","baseline":"middle","fontSize":7,"dx":3},"encoding":{"x":{"field":"t2","type":"quantitative","title":null},"y":{"field":"v","type":"quantitative","title":null},"text":{"field":"n"},"fill":{"field":"k","type":"nominal","legend":null}}},
   {"data":{"name":"uj_bx"},"mark":{"type":"tick","orient":"horizontal","size":25,"thickness":8,"clip":false},"encoding":{"x":{"datum":154.9},"y":{"field":"v","type":"quantitative","title":null},"fill":{"field":"k","type":"nominal","legend":null}}},
   {"data":{"name":"uj_bx"},"transform":[{"filter":"datum.k!='bK'"}],"mark":{"type":"text","fontSize":6.5,"color":"#111111"},"encoding":{"x":{"datum":154.9},"y":{"field":"v","type":"quantitative","title":null},"text":{"field":"v","format":".3f"}}},
   {"data":{"name":"uj_bx"},"transform":[{"filter":"datum.k=='bK'"}],"mark":{"type":"text","fontSize":6.5,"color":"#ffffff"},"encoding":{"x":{"datum":154.9},"y":{"field":"v","type":"quantitative","title":null},"text":{"field":"v","format":".3f"}}},
   {"data":{"name":"uj_hi"},"mark":{"type":"text","baseline":"bottom","dy":-2,"fontSize":7,"color":"#e6e6e6"},"encoding":{"x":{"field":"t","type":"quantitative","title":null},"y":{"field":"v","type":"quantitative","title":null},"text":{"field":"v","format":".3f"}}},
   {"data":{"name":"uj_lo"},"mark":{"type":"text","baseline":"top","dy":2,"fontSize":7,"color":"#e6e6e6"},"encoding":{"x":{"field":"t","type":"quantitative","title":null},"y":{"field":"v","type":"quantitative","title":null},"text":{"field":"v","format":".3f"}}},
   {"data":{"values":[{}]},"mark":{"type":"text","align":"left","baseline":"top","dx":4,"dy":1,"fontSize":7,"color":"#e6e6e6"},"encoding":{"x":{"datum":1.76},"y":{"datum":147.347},"text":{"value":"147.347"}}},
   {"data":{"values":[{}]},"mark":{"type":"text","baseline":"bottom","dy":-1,"fontSize":7,"color":"#e6e6e6"},"encoding":{"x":{"datum":35.2},"y":{"datum":146.93},"text":{"value":"145.886"}}},
   {"data":{"values":[{}]},"mark":{"type":"rule","color":"#d8d820","strokeWidth":2},"encoding":{"x":{"datum":148.5},"y":{"datum":145.72},"y2":{"datum":145.06}}},
   {"data":{"values":[{}]},"mark":{"type":"text","angle":270,"fontSize":8,"color":"#d8d820"},"encoding":{"x":{"datum":148.5},"y":{"datum":144.93},"text":{"value":"50"}}},
   {"data":{"values":[{}]},"mark":{"type":"tick","orient":"horizontal","size":24,"thickness":11,"color":"#6a6a6a"},"encoding":{"x":{"datum":146.8},"y":{"datum":143.52}}},
   {"data":{"values":[{}]},"mark":{"type":"text","fontSize":9,"fontWeight":"bold","color":"#ffffff"},"encoding":{"x":{"datum":146.8},"y":{"datum":143.52},"text":{"value":"D-pp"}}},
   {"data":{"values":[{}]},"mark":{"type":"text","align":"left","baseline":"top","fontSize":7,"dx":3,"dy":2,"color":"#c8d0d0"},"encoding":{"x":{"datum":-1.76},"y":{"datum":147.623},"text":{"value":"USDJPY_M7,M30  144.137 144.155 144.105 144.152"}}},
   {"data":{"values":[{}]},"mark":{"type":"text","align":"left","baseline":"middle","fontSize":9.5,"color":"#ffffff"},"encoding":{"x":{"datum":-0.6},"y":{"datum":143.7},"text":{"value":"USDJPY, M30"}}},
   {"data":{"values":[{}]},"mark":{"type":"text","align":"left","baseline":"middle","fontSize":14,"color":"#3f8fe6"},"encoding":{"x":{"datum":-0.6},"y":{"datum":143.46},"text":{"value":"144.152"}}}
 ]},
 {"spacing":3,"vconcat":[
  {"width":213,"height":180,"layer":[
   {"data":{"name":"au_lv"},"mark":{"type":"rule","strokeWidth":1},"encoding":{"y":{"field":"v","type":"quantitative","title":null},"stroke":{"field":"k","type":"nominal","legend":null,"scale":{"domain":["R","HL","ref","P","G","D","W","GD","PP"],"range":["#3d84d6","#a596c4","#8c9e9e","#c8cf2a","#5fc232","#b9a6d6","#dcdcdc","#5fc232","#b8ac3a"]}},"strokeDash":{"field":"k","type":"nominal","legend":null,"scale":{"domain":["R","HL","ref","P","G","D","W","GD","PP"],"range":[[1,0],[1,0],[1,0],[1,0],[1,0],[5,3],[1,0],[6,3],[1,0]]}}}},
   {"data":{"name":"au_p"},"mark":{"type":"line","color":"#45a7df","strokeWidth":2,"clip":true},"encoding":{"x":{"field":"t","type":"quantitative","title":null,"scale":{"domain":[-4.41,58.8],"nice":false,"zero":false},"axis":{"values":[0,24,48],"labels":false,"grid":true,"title":null}},"y":{"field":"v","type":"quantitative","title":null,"scale":{"domain":[0.570491,0.576874],"nice":false,"zero":false},"axis":{"orient":"right","values":[0.5767,0.57445],"format":".5f","grid":true,"title":null}}}},
   {"data":{"name":"au_r"},"mark":{"type":"line","color":"#a3262a","strokeWidth":2.5,"clip":true},"encoding":{"x":{"field":"t","type":"quantitative","title":null},"y":{"field":"v","type":"quantitative","title":null}}},
   {"data":{"name":"au_k"},"mark":{"type":"line","color":"#000000","strokeWidth":2,"clip":true},"encoding":{"x":{"field":"t","type":"quantitative","title":null},"y":{"field":"v","type":"quantitative","title":null}}},
   {"data":{"name":"au_lv"},"mark":{"type":"text","align":"left","baseline":"bottom","fontSize":7,"dy":-1},"encoding":{"x":{"datum":53.8},"y":{"field":"v","type":"quantitative","title":null},"text":{"field":"n"},"fill":{"field":"k","type":"nominal","legend":null,"scale":{"domain":["R","HL","ref","P","G","D","W","GD","PP","bB","bM","bY","bG","bW","bK","bS","bP"],"range":["#4a90e0","#d77ad8","#b4bcbc","#d8dc30","#66d22a","#c48ee0","#f0f0f0","#66d22a","#d8d020","#2f7fe8","#e070e8","#f4f400","#66e02a","#f4f4f4","#000000","#b8b8b8","#e8b4b4"]}}}},
   {"data":{"name":"au_bx"},"mark":{"type":"tick","orient":"horizontal","size":25,"thickness":8,"clip":false},"encoding":{"x":{"datum":62.66},"y":{"field":"v","type":"quantitative","title":null},"fill":{"field":"k","type":"nominal","legend":null}}},
   {"data":{"name":"au_bx"},"transform":[{"filter":"datum.k!='bK'"}],"mark":{"type":"text","fontSize":6.5,"color":"#111111"},"encoding":{"x":{"datum":62.66},"y":{"field":"v","type":"quantitative","title":null},"text":{"field":"v","format":".5f"}}},
   {"data":{"name":"au_bx"},"transform":[{"filter":"datum.k=='bK'"}],"mark":{"type":"text","fontSize":6.5,"color":"#ffffff"},"encoding":{"x":{"datum":62.66},"y":{"field":"v","type":"quantitative","title":null},"text":{"field":"v","format":".5f"}}},
   {"data":{"name":"au_hi"},"mark":{"type":"text","baseline":"bottom","dy":-2,"fontSize":7,"color":"#e6e6e6"},"encoding":{"x":{"field":"t","type":"quantitative","title":null},"y":{"field":"v","type":"quantitative","title":null},"text":{"field":"v","format":".5f"}}},
   {"data":{"name":"au_lo"},"mark":{"type":"text","baseline":"top","dy":2,"fontSize":7,"color":"#e6e6e6"},"encoding":{"x":{"field":"t","type":"quantitative","title":null},"y":{"field":"v","type":"quantitative","title":null},"text":{"field":"v","format":".5f"}}},
   {"data":{"values":[{}]},"mark":{"type":"text","align":"right","baseline":"bottom","dx":-2,"fontSize":7,"color":"#e6e6e6"},"encoding":{"x":{"datum":48.53},"y":{"datum":0.57058},"text":{"value":"0.57058"}}},
   {"data":{"values":[{}]},"mark":{"type":"rule","color":"#3fd43f","strokeWidth":1.5},"encoding":{"x":{"datum":56.8},"y":{"datum":0.57604},"y2":{"datum":0.57101}}},
   {"data":{"values":[{}]},"mark":{"type":"text","align":"left","baseline":"top","fontSize":7,"dx":3,"dy":2,"color":"#c8d0d0"},"encoding":{"x":{"datum":-4.41},"y":{"datum":0.576874},"text":{"value":"AUDCHF_M7,M30  0.57127 0.57137 0.57125 0.57135"}}},
   {"data":{"values":[{}]},"mark":{"type":"text","align":"left","baseline":"middle","fontSize":9.5,"color":"#e8891c"},"encoding":{"x":{"datum":-3.5},"y":{"datum":0.57133},"text":{"value":"AUDCHF , M30"}}},
   {"data":{"values":[{}]},"mark":{"type":"text","align":"left","baseline":"middle","fontSize":14,"color":"#ffffff"},"encoding":{"x":{"datum":-3.5},"y":{"datum":0.5708},"text":{"value":"0.57135"}}}
  ]},
  {"width":213,"height":48,"layer":[
   {"data":{"name":"au_q1"},"mark":{"type":"line","color":"#a82838","strokeWidth":3,"clip":true},"encoding":{"x":{"field":"t","type":"quantitative","title":null,"scale":{"domain":[-4.41,58.8],"nice":false,"zero":false},"axis":{"values":[0,6,12,18,24,30,36,42,48],"grid":false,"title":null,"labelExpr":"datum.value%24==0 ? ['00:00',['8/26(月)','8/27(火)','8/28(水)'][datum.value/24]] : format(datum.value%24,'02d')+':00'"}},"y":{"field":"v","type":"quantitative","title":null,"scale":{"domain":[14.3,85.7],"nice":false,"zero":false},"axis":{"orient":"right","values":[15,30,50,70,85],"labelFlush":true,"grid":true,"title":null}}}},
   {"data":{"name":"au_q2"},"mark":{"type":"line","color":"#e8e8e8","strokeWidth":1,"strokeDash":[2,2],"clip":true},"encoding":{"x":{"field":"t","type":"quantitative","title":null},"y":{"field":"v","type":"quantitative","title":null}}},
   {"data":{"values":[{}]},"mark":{"type":"text","align":"left","baseline":"top","fontSize":7,"dx":3,"dy":1,"color":"#c8d0d0"},"encoding":{"x":{"datum":-4.41},"y":{"datum":85.7},"text":{"value":"QQE(5) 32.3641 37.1785"}}}
  ]}
 ]}
]},
{"spacing":1,"hconcat":[
 {"spacing":3,"vconcat":[
  {"width":213,"height":175,"layer":[
   {"data":{"name":"uc_lv"},"mark":{"type":"rule","strokeWidth":1},"encoding":{"y":{"field":"v","type":"quantitative","title":null},"stroke":{"field":"k","type":"nominal","legend":null,"scale":{"domain":["R","HL","ref","P","G","D","W","GD","PP"],"range":["#3d84d6","#a596c4","#8c9e9e","#c8cf2a","#5fc232","#b9a6d6","#dcdcdc","#5fc232","#b8ac3a"]}},"strokeDash":{"field":"k","type":"nominal","legend":null,"scale":{"domain":["R","HL","ref","P","G","D","W","GD","PP"],"range":[[1,0],[1,0],[1,0],[1,0],[1,0],[5,3],[1,0],[6,3],[1,0]]}}}},
   {"data":{"name":"uc_p"},"mark":{"type":"line","color":"#45a7df","strokeWidth":2,"clip":true},"encoding":{"x":{"field":"t","type":"quantitative","title":null,"scale":{"domain":[-0.89,63.2],"nice":false,"zero":false},"axis":{"values":[6,30,54],"labels":false,"grid":true,"title":null}},"y":{"field":"v","type":"quantitative","title":null,"scale":{"domain":[0.84188,0.85487],"nice":false,"zero":false},"axis":{"orient":"right","values":[0.854,0.848,0.842],"format":".3f","grid":true,"title":null}}}},
   {"data":{"name":"uc_r"},"mark":{"type":"line","color":"#a3262a","strokeWidth":2.5,"clip":true},"encoding":{"x":{"field":"t","type":"quantitative","title":null},"y":{"field":"v","type":"quantitative","title":null}}},
   {"data":{"name":"uc_k"},"mark":{"type":"line","color":"#000000","strokeWidth":2,"clip":true},"encoding":{"x":{"field":"t","type":"quantitative","title":null},"y":{"field":"v","type":"quantitative","title":null}}},
   {"data":{"name":"uc_lv"},"mark":{"type":"text","align":"left","baseline":"bottom","fontSize":7,"dy":-1},"encoding":{"x":{"datum":58.5},"y":{"field":"v","type":"quantitative","title":null},"text":{"field":"n"},"fill":{"field":"k","type":"nominal","legend":null,"scale":{"domain":["R","HL","ref","P","G","D","W","GD","PP","bB","bM","bY","bG","bW","bK","bS","bP"],"range":["#4a90e0","#d77ad8","#b4bcbc","#d8dc30","#66d22a","#c48ee0","#f0f0f0","#66d22a","#d8d020","#2f7fe8","#e070e8","#f4f400","#66e02a","#f4f4f4","#000000","#b8b8b8","#e8b4b4"]}}}},
   {"data":{"name":"uc_bx"},"mark":{"type":"tick","orient":"horizontal","size":19,"thickness":8,"clip":false},"encoding":{"x":{"datum":66.2},"y":{"field":"v","type":"quantitative","title":null},"fill":{"field":"k","type":"nominal","legend":null}}},
   {"data":{"name":"uc_bx"},"mark":{"type":"text","fontSize":6.5,"color":"#111111"},"encoding":{"x":{"datum":66.2},"y":{"field":"v","type":"quantitative","title":null},"text":{"field":"v","format":".3f"}}},
   {"data":{"name":"uc_hi"},"mark":{"type":"text","baseline":"bottom","dy":-2,"fontSize":7,"color":"#e6e6e6"},"encoding":{"x":{"field":"t","type":"quantitative","title":null},"y":{"field":"v","type":"quantitative","title":null},"text":{"field":"v","format":".5f"}}},
   {"data":{"name":"uc_lo"},"mark":{"type":"text","baseline":"top","dy":2,"fontSize":7,"color":"#e6e6e6"},"encoding":{"x":{"field":"t","type":"quantitative","title":null},"y":{"field":"v","type":"quantitative","title":null},"text":{"field":"v","format":".5f"}}},
   {"data":{"values":[{}]},"mark":{"type":"text","align":"right","baseline":"bottom","dx":-2,"fontSize":7,"color":"#e6e6e6"},"encoding":{"x":{"datum":54.6},"y":{"datum":0.84213},"text":{"value":"0.84213"}}},
   {"data":{"values":[{}]},"mark":{"type":"rule","color":"#3fd43f","strokeWidth":1.5},"encoding":{"x":{"datum":62},"y":{"datum":0.851},"y2":{"datum":0.84538}}},
   {"data":{"values":[{}]},"mark":{"type":"text","align":"left","baseline":"top","fontSize":7,"dx":3,"dy":2,"color":"#c8d0d0"},"encoding":{"x":{"datum":-0.89},"y":{"datum":0.85487},"text":{"value":"USDCHF_M7,M30  0.84311 0.84322 0.84298 0.84319"}}},
   {"data":{"values":[{}]},"mark":{"type":"text","align":"left","baseline":"middle","fontSize":9.5,"color":"#e8891c"},"encoding":{"x":{"datum":1.0},"y":{"datum":0.84363},"text":{"value":"USDCHF , M30"}}},
   {"data":{"values":[{}]},"mark":{"type":"text","align":"left","baseline":"middle","fontSize":14,"color":"#ffffff"},"encoding":{"x":{"datum":1.0},"y":{"datum":0.84275},"text":{"value":"0.84319"}}}
  ]},
  {"width":213,"height":49,"layer":[
   {"data":{"name":"uc_q1"},"mark":{"type":"line","color":"#a82838","strokeWidth":3,"clip":true},"encoding":{"x":{"field":"t","type":"quantitative","title":null,"scale":{"domain":[-0.89,63.2],"nice":false,"zero":false},"axis":{"values":[6,12,18,24,30,36,42,48,54],"grid":false,"title":null,"labelExpr":"(datum.value+18)%24==0 ? ['00:00',['','8/26(月)','8/27(火)','8/28(水)'][floor((datum.value+18)/24)]] : format((datum.value+18)%24,'02d')+':00'"}},"y":{"field":"v","type":"quantitative","title":null,"scale":{"domain":[14.3,85.7],"nice":false,"zero":false},"axis":{"orient":"right","values":[15,30,50,70,85],"labelFlush":true,"grid":true,"title":null}}}},
   {"data":{"name":"uc_q2"},"mark":{"type":"line","color":"#e8e8e8","strokeWidth":1,"strokeDash":[2,2],"clip":true},"encoding":{"x":{"field":"t","type":"quantitative","title":null},"y":{"field":"v","type":"quantitative","title":null}}},
   {"data":{"values":[{}]},"mark":{"type":"text","align":"left","baseline":"top","fontSize":7,"dx":3,"dy":1,"color":"#c8d0d0"},"encoding":{"x":{"datum":-0.89},"y":{"datum":85.7},"text":{"value":"QQE(5) 32.0390 34.4826"}}}
  ]}
 ]},
 {"spacing":3,"vconcat":[
  {"width":761,"height":183,"layer":[
   {"data":{"name":"m5_lv"},"mark":{"type":"rule","strokeWidth":1},"encoding":{"y":{"field":"v","type":"quantitative","title":null},"stroke":{"field":"k","type":"nominal","legend":null,"scale":{"domain":["R","HL","ref","P","G","D","W","GD","PP"],"range":["#3d84d6","#a596c4","#8c9e9e","#c8cf2a","#5fc232","#b9a6d6","#dcdcdc","#5fc232","#b8ac3a"]}},"strokeDash":{"field":"k","type":"nominal","legend":null,"scale":{"domain":["R","HL","ref","P","G","D","W","GD","PP"],"range":[[1,0],[1,0],[1,0],[1,0],[1,0],[5,3],[1,0],[6,3],[1,0]]}}}},
   {"data":{"name":"m5_o"},"mark":{"type":"line","color":"#e39a2a","strokeWidth":2,"clip":true},"encoding":{"x":{"field":"t","type":"quantitative","title":null},"y":{"field":"v","type":"quantitative","title":null}}},
   {"data":{"name":"m5_tan"},"mark":{"type":"line","color":"#b08650","strokeWidth":1.2,"clip":true},"encoding":{"x":{"field":"t","type":"quantitative","title":null},"y":{"field":"v","type":"quantitative","title":null}}},
   {"data":{"name":"m5_b"},"mark":{"type":"line","color":"#2f86e0","strokeWidth":3,"clip":true},"encoding":{"x":{"field":"t","type":"quantitative","title":null},"y":{"field":"v","type":"quantitative","title":null}}},
   {"data":{"name":"m5_lav"},"mark":{"type":"line","color":"#8f9be0","strokeWidth":1.5,"clip":true},"encoding":{"x":{"field":"t","type":"quantitative","title":null},"y":{"field":"v","type":"quantitative","title":null}}},
   {"data":{"name":"m5_y"},"mark":{"type":"line","color":"#b9dc2a","strokeWidth":2,"clip":true},"encoding":{"x":{"field":"t","type":"quantitative","title":null},"y":{"field":"v","type":"quantitative","title":null}}},
   {"data":{"name":"m5_p"},"mark":{"type":"line","color":"#45a7df","strokeWidth":1.8,"clip":true},"encoding":{"x":{"field":"t","type":"quantitative","title":null,"scale":{"domain":[-1.28,36.23],"nice":false,"zero":false},"axis":{"values":[0,2,4,6,8,10,12,14,16,18,20,22,24,26,28,30,32],"labels":false,"grid":true,"title":null}},"y":{"field":"v","type":"quantitative","title":null,"scale":{"domain":[143.728,145.244],"nice":false,"zero":false},"axis":{"orient":"right","values":[145.195,144.85,144.33,143.805],"format":".3f","grid":true,"title":null}}}},
   {"data":{"name":"m5_r"},"mark":{"type":"line","color":"#b0242a","strokeWidth":2,"clip":true},"encoding":{"x":{"field":"t","type":"quantitative","title":null},"y":{"field":"v","type":"quantitative","title":null}}},
   {"data":{"name":"m5_k"},"mark":{"type":"line","color":"#000000","strokeWidth":2.2,"clip":true},"encoding":{"x":{"field":"t","type":"quantitative","title":null},"y":{"field":"v","type":"quantitative","title":null}}},
   {"data":{"name":"m5_lv"},"mark":{"type":"text","align":"left","baseline":"bottom","fontSize":7,"dy":-1},"encoding":{"x":{"datum":32.6},"y":{"field":"v","type":"quantitative","title":null},"text":{"field":"n"},"fill":{"field":"k","type":"nominal","legend":null,"scale":{"domain":["R","HL","ref","P","G","D","W","GD","PP","bB","bM","bY","bG","bW","bK","bS","bP"],"range":["#4a90e0","#d77ad8","#b4bcbc","#d8dc30","#66d22a","#c48ee0","#f0f0f0","#66d22a","#d8d020","#2f7fe8","#e070e8","#f4f400","#66e02a","#f4f4f4","#000000","#b8b8b8","#e8b4b4"]}}}},
   {"data":{"name":"m5_bx"},"mark":{"type":"tick","orient":"horizontal","size":25,"thickness":8,"clip":false},"encoding":{"x":{"datum":36.87},"y":{"field":"v","type":"quantitative","title":null},"fill":{"field":"k","type":"nominal","legend":null}}},
   {"data":{"name":"m5_bx"},"transform":[{"filter":"datum.k!='bK'"}],"mark":{"type":"text","fontSize":6.5,"color":"#111111"},"encoding":{"x":{"datum":36.87},"y":{"field":"v","type":"quantitative","title":null},"text":{"field":"v","format":".3f"}}},
   {"data":{"name":"m5_bx"},"transform":[{"filter":"datum.k=='bK'"}],"mark":{"type":"text","fontSize":6.5,"color":"#ffffff"},"encoding":{"x":{"datum":36.87},"y":{"field":"v","type":"quantitative","title":null},"text":{"field":"v","format":".3f"}}},
   {"data":{"name":"m5_hi"},"mark":{"type":"text","baseline":"bottom","dy":-2,"fontSize":7,"color":"#e6e6e6"},"encoding":{"x":{"field":"t","type":"quantitative","title":null},"y":{"field":"v","type":"quantitative","title":null},"text":{"field":"v","format":".3f"}}},
   {"data":{"name":"m5_lo"},"mark":{"type":"text","baseline":"top","dy":2,"fontSize":7,"color":"#e6e6e6"},"encoding":{"x":{"field":"t","type":"quantitative","title":null},"y":{"field":"v","type":"quantitative","title":null},"text":{"field":"v","format":".3f"}}},
   {"data":{"values":[{}]},"mark":{"type":"rule","color":"#d8d820","strokeWidth":2},"encoding":{"x":{"datum":35.9},"y":{"datum":144.597},"y2":{"datum":144.392}}},
   {"data":{"values":[{}]},"mark":{"type":"text","fontSize":8,"color":"#d8d820","baseline":"top"},"encoding":{"x":{"datum":35.9},"y":{"datum":144.37},"text":{"value":"20"}}},
   {"data":{"values":[{}]},"mark":{"type":"tick","orient":"horizontal","size":26,"thickness":10,"color":"#6a6a6a"},"encoding":{"x":{"datum":35.3},"y":{"datum":143.797}}},
   {"data":{"values":[{}]},"mark":{"type":"text","fontSize":9,"fontWeight":"bold","color":"#ffffff"},"encoding":{"x":{"datum":35.3},"y":{"datum":143.797},"text":{"value":"W-pp"}}},
   {"data":{"values":[{}]},"mark":{"type":"text","align":"left","baseline":"top","fontSize":7,"dx":3,"dy":2,"color":"#c8d0d0"},"encoding":{"x":{"datum":-1.28},"y":{"datum":145.244},"text":{"value":"USDJPY_M7,M5  144.142 144.154 144.242 144.152"}}}
  ]},
  {"width":761,"height":40,"layer":[
   {"data":{"name":"m5_ol"},"mark":{"type":"rule","color":"#b8c4c4","strokeWidth":1},"encoding":{"y":{"field":"v","type":"quantitative","title":null}}},
   {"data":{"name":"m5_br"},"mark":{"type":"line","color":"#b07a78","strokeWidth":1.2,"interpolate":"monotone","clip":true},"encoding":{"x":{"field":"t","type":"quantitative","title":null},"y":{"field":"v","type":"quantitative","title":null}}},
   {"data":{"name":"m5_yl"},"mark":{"type":"line","color":"#c8c83a","strokeWidth":1.2,"interpolate":"monotone","clip":true},"encoding":{"x":{"field":"t","type":"quantitative","title":null},"y":{"field":"v","type":"quantitative","title":null}}},
   {"data":{"name":"m5_c"},"mark":{"type":"line","color":"#2fb8b8","strokeWidth":1.4,"interpolate":"monotone","clip":true},"encoding":{"x":{"field":"t","type":"quantitative","title":null,"scale":{"domain":[-1.28,36.23],"nice":false,"zero":false},"axis":{"values":[0,2,4,6,8,10,12,14,16,18,20,22,24,26,28,30,32],"grid":false,"title":null,"labelExpr":"[['18:00'],['20:00'],['22:00'],['00:00','8/27(火)'],['02:00'],['04:00'],['06:15','8/27(火)'],['08:00'],['10:00'],['12:00'],['14:00'],['16:00'],['18:00'],['20:00'],['22:00'],['00:00','8/28(水)'],['02:00']][round(datum.value/2)]"}},"y":{"field":"v","type":"quantitative","title":null,"scale":{"domain":[-115,85],"nice":false,"zero":false},"axis":{"orient":"right","values":[80,0,-80],"labelFontSize":6,"grid":false,"title":null,"labelExpr":"datum.value==0 ? '0.00' : format(datum.value,'.4f')"}}}},
   {"data":{"values":[{}]},"mark":{"type":"text","align":"left","baseline":"top","fontSize":7,"dx":3,"dy":1,"color":"#c8d0d0"},"encoding":{"x":{"datum":-1.28},"y":{"datum":85},"text":{"value":"IPV-R(3) -5.3377 -80.7099 -80.7047"}}},
   {"data":{"values":[{}]},"mark":{"type":"text","align":"left","baseline":"middle","fontSize":9.5,"color":"#ffffff"},"encoding":{"x":{"datum":-1.1},"y":{"datum":-12},"text":{"value":"USDJPY, M5"}}},
   {"data":{"values":[{}]},"mark":{"type":"text","align":"left","baseline":"middle","fontSize":14,"color":"#ffffff"},"encoding":{"x":{"datum":-1.1},"y":{"datum":-75},"text":{"value":"144.152"}}}
  ]}
 ]}
]}
]
}
